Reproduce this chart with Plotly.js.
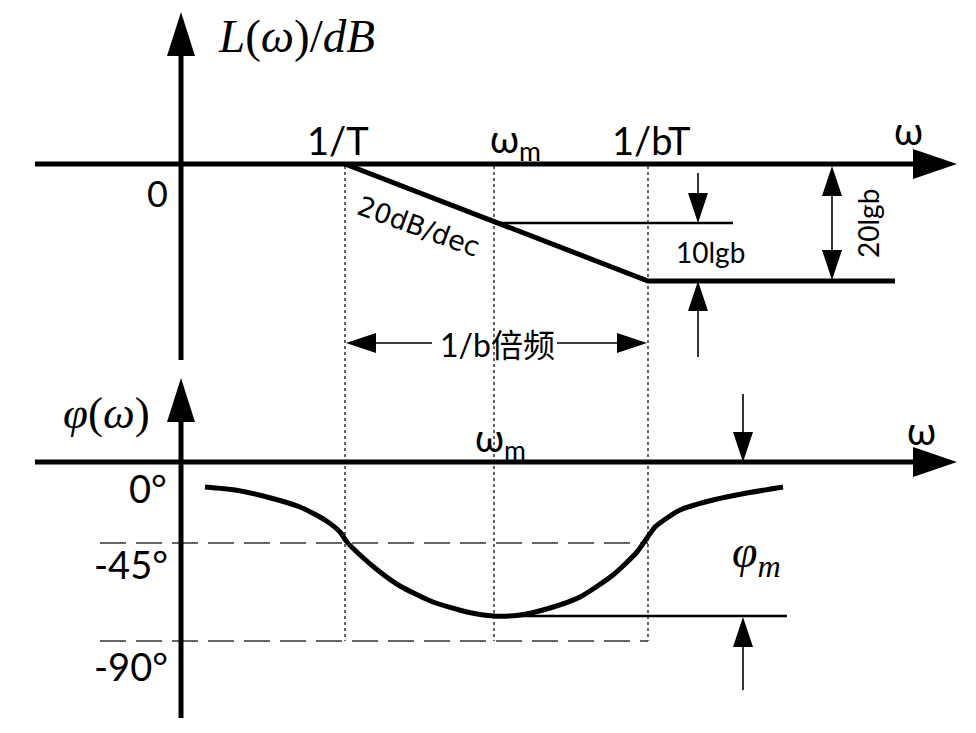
<!DOCTYPE html>
<html><head><meta charset="utf-8">
<script src="https://cdn.plot.ly/plotly-3.0.1.min.js"></script>
<style>html,body{margin:0;padding:0;background:#fff}#chart{width:976px;height:733px}</style>
</head><body><div id="chart"></div>
<script>
// ---- key frequencies (x positions on the ω axis) ----
const freqNames  = ['1/T', 'ω<sub>m</sub>', '1/bT'];
const freqX      = [345, 494, 648];
// ---- ω-axes (magnitude, phase) ----
const omegaAxisY = [164, 462];
const omegaAxisX = [35, 957];      // start, arrow tip
const vAxisX     = 181;
const vAxisBottom = [360, 718];
const vAxisTip    = [12, 378];
// ---- asymptotic magnitude L(ω) ----
const magX = [345, 648, 895];
const magY = [164, 281, 281];
const magMidLevelX = [494, 733];   // 10lgb reference line
const magMidLevelY = 223;
// ---- phase φ(ω) ----
const phaseX = [205, 235, 267, 300, 325, 340, 347, 360, 380, 400, 433, 467, 494,
                520, 550, 580, 613, 637, 647, 655, 667, 680, 713, 747, 783];
const phaseY = [487, 490, 497, 507, 520, 532, 542, 555, 572, 586, 602, 612, 616,
                615, 608, 597, 575, 552, 538, 527, 518, 510, 500, 493, 487];
const phaseTickLabels = ['0°', '-45°', '-90°'];
const phaseTickY      = [488, 564, 666];
const dashLevelY = [543, 641];      // -45°, -90° guides
const dashLevelX = [100, 648];
const phiMinLevelX = [494, 787];
const phiMinLevelY = 616;

const traces = [];
function line(xs, ys, w, dash, color) {
  traces.push({x: xs, y: ys, mode: 'lines', hoverinfo: 'skip',
    line: {color: color || '#000', width: w, dash: dash || 'solid', shape: 'linear'}});
}
function head(tx, ty, dx, dy, len, half) {
  const bx = tx - dx * len, by = ty - dy * len, px = -dy, py = dx;
  traces.push({x: [tx, bx + px * half, bx - px * half, tx], y: [ty, by + py * half, by - py * half, ty],
    mode: 'lines', fill: 'toself', fillcolor: '#000', line: {width: 0, color: '#000'}, hoverinfo: 'skip'});
}
function arrow(x0, y0, x1, y1, w, len, half) {
  const L = Math.hypot(x1 - x0, y1 - y0), dx = (x1 - x0) / L, dy = (y1 - y0) / L;
  line([x0, x1 - dx * len * 0.8], [y0, y1 - dy * len * 0.8], w);
  head(x1, y1, dx, dy, len, half);
}

// dotted guides
freqX.forEach(x => line([x, x], [omegaAxisY[0] + 2, dashLevelY[1]], 1.3, 'dot', '#111'));
// dashed guides
dashLevelY.forEach(y => line(dashLevelX, [y, y], 1.5, '26px,10px', '#333'));
// axes
omegaAxisY.forEach(y => arrow(omegaAxisX[0], y, omegaAxisX[1], y, 5, 44, 15));
vAxisBottom.forEach((b, i) => arrow(vAxisX, b, vAxisX, vAxisTip[i], 5, 44, 14));
// magnitude
line(magX, magY, 5);
line(magMidLevelX, [magMidLevelY, magMidLevelY], 2.5);
// 10lgb arrows
arrow(698, 173, 698, magMidLevelY, 1.6, 30, 10);
arrow(698, 357, 698, magY[1], 1.6, 30, 10);
// 20lgb double arrow
arrow(832, 222, 832, omegaAxisY[0] + 2, 1.6, 30, 10);
arrow(832, 222, 832, magY[2] - 1, 1.6, 30, 10);
// 1/b 倍频 arrows
arrow(432, 343, freqX[0] + 1, 343, 1.6, 30, 10);
arrow(557, 343, freqX[2] - 1, 343, 1.6, 30, 10);
// phase
traces.push({x: phaseX, y: phaseY, mode: 'lines', hoverinfo: 'skip',
  line: {color: '#000', width: 5, shape: 'spline', smoothing: 0.6}});
line(phiMinLevelX, [phiMinLevelY, phiMinLevelY], 2.5);
arrow(743, 394, 743, omegaAxisY[1], 1.6, 30, 10);
arrow(743, 690, 743, phiMinLevelY + 1, 1.6, 30, 10);

const sans = 'Lato, "Noto Sans CJK SC", sans-serif';
const serif = '"Liberation Serif", "DejaVu Serif", serif';
function ann(text, x, y, size, family, extra) {
  return Object.assign({text, x, y, xref: 'x', yref: 'y', showarrow: false,
    xanchor: 'center', yanchor: 'middle', font: {size, family, color: '#000'}}, extra || {});
}
const annotations = [
  ann('<i>L</i>(<i>ω</i>)/<i>dB</i>', 296, 36, 47, serif),
  ann('0', 157, 193, 36, sans),
  ann(freqNames[0], freqX[0] - 7, 140, 38, sans),
  ann(freqNames[1], freqX[1] + 21, 141, 38, sans),
  ann(freqNames[2], freqX[2] + 3, 140, 38, sans),
  ann('ω', 908, 130, 38, sans),
  ann('20dB/dec', 419, 226, 27, '"DejaVu Sans", sans-serif', {textangle: 20}),
  ann('10lgb', 710, 252, 28, sans),
  ann('20lgb', 868, 224, 28, sans, {textangle: -90}),
  ann('1/b倍频', 497, 344, 32, sans),
  ann('<i>φ</i>(<i>ω</i>)', 106, 413, 45, serif),
  ann(freqNames[1], 500, 440, 38, sans),
  ann('ω', 921, 430, 38, sans),
  ann(phaseTickLabels[0], 148, phaseTickY[0], 38, sans),
  ann(phaseTickLabels[1], 131, phaseTickY[1], 38, sans),
  ann(phaseTickLabels[2], 131, phaseTickY[2], 38, sans),
  ann('<i>φ<sub>m</sub></i>', 756, 555, 46, serif)
];

Plotly.newPlot('chart', traces, {
  width: 976, height: 733, margin: {l: 0, r: 0, t: 0, b: 0},
  paper_bgcolor: '#fff', plot_bgcolor: '#fff', showlegend: false,
  xaxis: {range: [0, 976], visible: false, fixedrange: true},
  yaxis: {range: [733, 0], visible: false, fixedrange: true},
  annotations
}, {staticPlot: true});
</script></body></html>
